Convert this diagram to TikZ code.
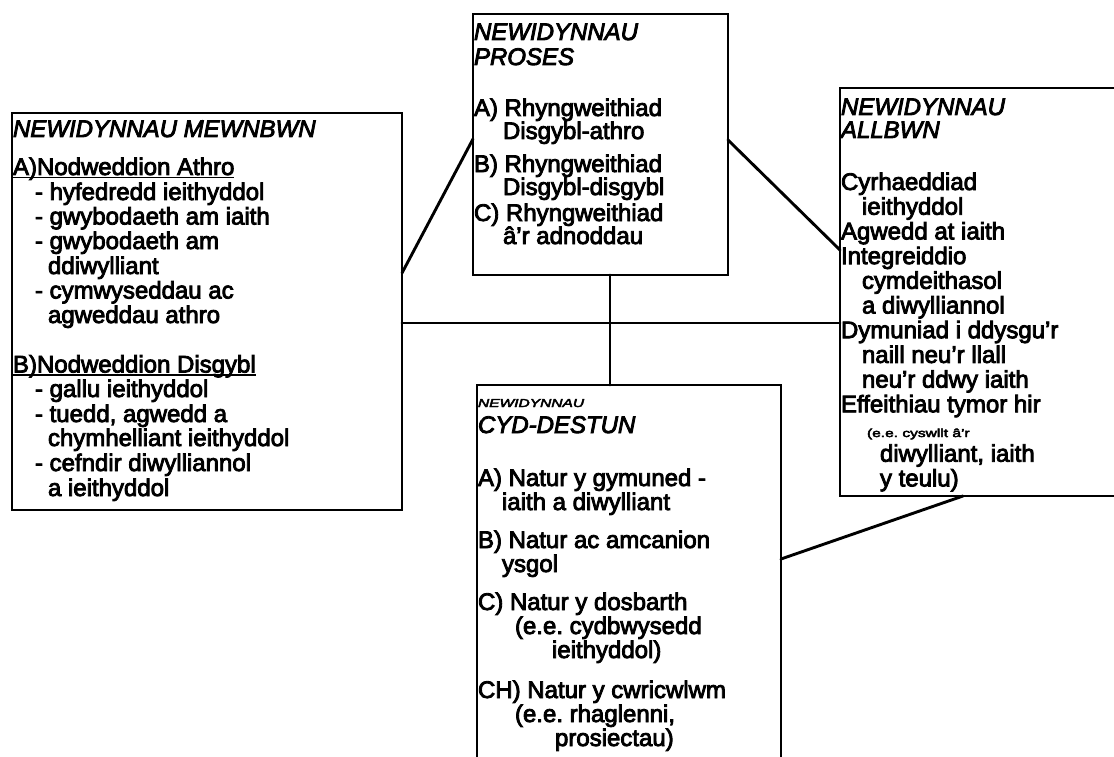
\documentclass[tikz,border=0pt]{standalone}
\usepackage{fontspec}
\usepackage{graphicx}
\setmainfont{Liberation Sans}[FakeBold=3.5]
\usetikzlibrary{calc}
\frenchspacing
% heavy underline for the sub-headings
\newcommand\wul[1]{\setbox0\hbox{#1}\rlap{\rule[-3.5pt]{\wd0}{1.8pt}}\box0}
% small stretched lettering
\newcommand\smalltxt[1]{\scalebox{1.35}[1]{\fontsize{11.5}{12}\selectfont #1}}
\begin{document}
\begin{tikzpicture}[x=1pt,y=-1pt,
  box/.style={draw, line width=2.6pt, rectangle, inner sep=0pt, outer sep=0pt, anchor=north west},
  link/.style={line width=2.9pt, line cap=round},
  txt/.style={anchor=base west, inner sep=0pt, outer sep=0pt, font=\fontsize{24}{24}\selectfont}]
\fill[white] (0,0) rectangle (1114,757);
\useasboundingbox (0,0) rectangle (1114,757);
\clip (0,0) rectangle (1114,757);

% boxes
\node[box, minimum width=390pt, minimum height=397pt] (inb)  at (12,113) {};
\node[box, minimum width=255pt, minimum height=261pt] (proc) at (473,14) {};
\node[box, minimum width=320pt, minimum height=408pt] (outb) at (840,88) {};
\node[box, minimum width=304pt, minimum height=420pt] (ctx)  at (477,385) {};

% connectors
\draw[link] ($(inb.north east)+(0,160)$) -- ($(proc.north west)+(0,125)$);
\draw[link] ($(proc.north east)+(0,126)$) -- ($(outb.north west)+(0,162)$);
\draw[link] ($(inb.north east)+(0,210)$) -- ($(outb.north west)+(0,235)$);
\draw[link] ($(proc.south west)+(137,0)$) -- ($(ctx.north west)+(133,0)$);
\draw[link] ($(ctx.north east)+(0,174)$) -- ($(outb.south west)+(123,0)$);

% input variables
\foreach \y/\x/\t [count=\i] in {
  137/13/{\textit{NEWIDYNNAU MEWNBWN}},
  175/13/{\wul{A)Nodweddion Athro}},
  200/35/{- hyfedredd ieithyddol},
  224.5/35/{- gwybodaeth am iaith},
  249/35/{- gwybodaeth am},
  274/48/{ddiwylliant},
  298.5/35/{- cymwyseddau ac},
  323/48/{agweddau athro},
  372.5/13/{\wul{B)Nodweddion Disgybl}},
  397/35/{- gallu ieithyddol},
  422/35/{- tuedd, agwedd a},
  446/48/{chymhelliant ieithyddol},
  471/35/{- cefndir diwylliannol},
  496/48/{a ieithyddol}}
  \node[txt] (inbt\i) at (\x,\y) {\t};

% process variables
\foreach \y/\x/\t [count=\i] in {
  40/474/{\textit{NEWIDYNNAU}},
  65/474/{\textit{PROSES}},
  116/474/{A) Rhyngweithiad},
  139/503/{Disgybl-athro},
  172/474/{B) Rhyngweithiad},
  195/503/{Disgybl-disgybl},
  221/474/{C) Rhyngweithiad},
  244/503/{â'r adnoddau}}
  \node[txt] (proct\i) at (\x,\y) {\t};

% output variables
\foreach \y/\x/\t [count=\i] in {
  115/841/{\textit{NEWIDYNNAU}},
  138/841/{\textit{ALLBWN}},
  190/841/{Cyrhaeddiad},
  214.7/862/{ieithyddol},
  239.4/841/{Agwedd at iaith},
  264.1/841/{Integreiddio},
  288.8/862/{cymdeithasol},
  313.5/862/{a diwylliannol},
  338.2/841/{Dymuniad i ddysgu'r},
  362.9/862/{naill neu'r llall},
  387.6/862/{neu'r ddwy iaith},
  412.3/841/{Effeithiau tymor hir},
  437/867/{\smalltxt{(e.e. cyswllt â'r}},
  461.7/880/{diwylliant, iaith},
  486.4/880/{y teulu)}}
  \node[txt] (outbt\i) at (\x,\y) {\t};

% context variables
\foreach \y/\x/\t [count=\i] in {
  407/478/{\smalltxt{\itshape NEWIDYNNAU}},
  433/478/{\textit{CYD-DESTUN}},
  486/478/{A) Natur y gymuned -},
  510/502/{iaith a diwylliant},
  548/478/{B) Natur ac amcanion},
  572/502/{ysgol},
  610/478/{C) Natur y dosbarth},
  634/515/{(e.e. cydbwysedd},
  658/552/{ieithyddol)},
  698/478/{CH) Natur y cwricwlwm},
  722/515/{(e.e. rhaglenni,},
  746/555/{prosiectau)}}
  \node[txt] (ctxt\i) at (\x,\y) {\t};
\end{tikzpicture}
\end{document}
